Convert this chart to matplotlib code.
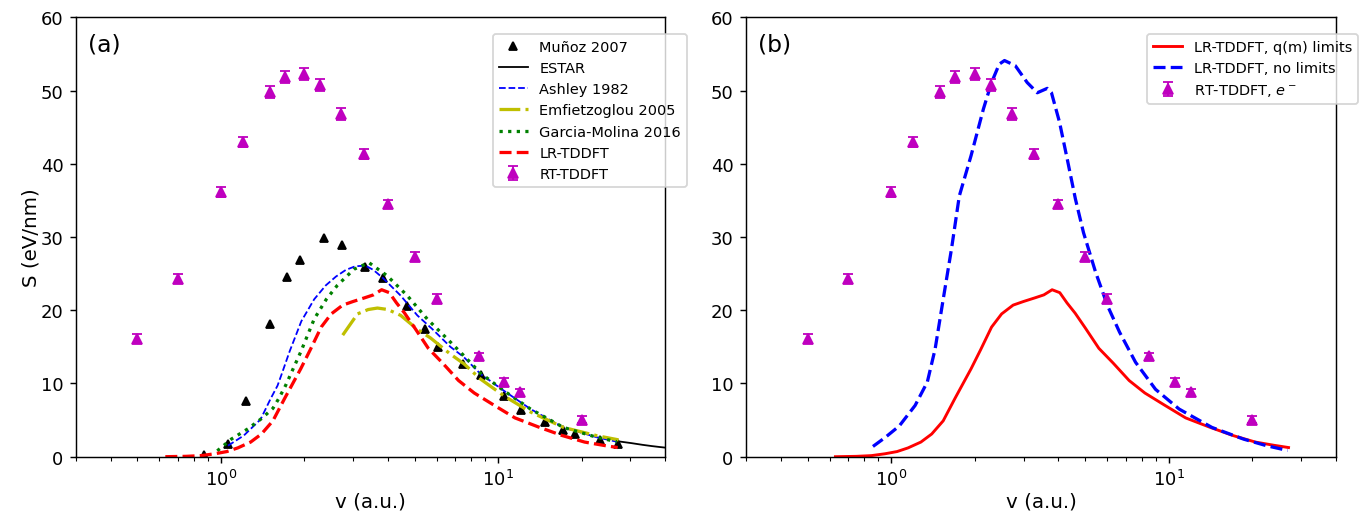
import matplotlib
matplotlib.use("Agg")
import matplotlib.pyplot as plt

# ---------------- data ----------------
munoz_v = [0.87, 1.06, 1.23, 1.505, 1.73, 1.93, 2.36, 2.73, 3.32, 3.84, 4.70, 5.44,
           6.06, 7.44, 8.64, 10.5, 12.1, 14.8, 17.1, 19.0, 23.4, 27.0]
munoz_S = [0.3, 1.73, 7.65, 18.1, 24.6, 26.8, 29.9, 28.9, 25.9, 24.4, 20.6, 17.5,
           15.0, 12.6, 11.2, 8.25, 6.42, 4.7, 3.69, 3.14, 2.24, 1.69]

estar_v = [27.11, 30.31, 33.20, 35.86, 38.34, 42.87]
estar_S = [2.10, 1.85, 1.62, 1.45, 1.32, 1.12]

ashley_v = [1.06, 1.21, 1.39, 1.51, 1.60, 1.65, 1.77, 1.95, 2.17, 2.39, 2.60, 2.82, 3.05,
            3.32, 3.55, 3.84, 4.45, 5.11, 5.80, 6.73, 7.52, 8.64, 10.5, 13.1, 17.2, 22.7, 26.8]
ashley_S = [1.5, 2.9, 5.1, 7.9, 9.7, 11.1, 14.4, 18.5, 21.5, 23.4, 24.6, 25.5, 26.0,
            26.1, 25.5, 24.4, 22.0, 19.3, 17.4, 15.0, 13.6, 11.3, 9.0, 6.5, 4.0, 2.65, 2.05]

emf_v = [2.75, 3.11, 3.40, 3.67, 4.00, 4.45, 5.11, 5.71, 6.73, 7.52, 8.64, 10.5, 13.1,
         17.2, 22.7, 27.2]
emf_S = [16.6, 19.5, 20.1, 20.3, 20.1, 19.3, 17.4, 16.2, 14.0, 12.7, 10.6, 8.3, 6.1,
         4.0, 2.87, 2.3]

gm_v = [0.97, 1.09, 1.25, 1.40, 1.54, 1.62, 1.71, 1.94, 2.17, 2.40, 2.63, 3.02, 3.42,
        3.98, 4.70, 5.55, 6.55, 7.52, 8.64, 10.5, 13.1, 17.2, 22.7, 26.8]
gm_S = [0.8, 2.4, 3.8, 5.2, 6.6, 8.0, 9.7, 14.3, 18.8, 21.5, 23.4, 25.6, 26.5,
        24.7, 22.0, 18.8, 16.1, 13.8, 11.4, 9.0, 6.5, 4.0, 2.65, 2.05]

lr_v = [0.63, 0.75, 0.85, 0.95, 1.05, 1.15, 1.28, 1.40, 1.54, 1.70, 1.94, 2.10, 2.30,
        2.50, 2.75, 3.00, 3.30, 3.55, 3.80, 4.05, 4.30, 4.60, 5.00, 5.60, 6.30, 7.20,
        8.20, 9.60, 11.5, 14.0, 17.0, 20.5, 24.0, 27.0]
lr_S = [0.0, 0.05, 0.15, 0.4, 0.7, 1.2, 2.0, 3.1, 4.9, 8.0, 12.0, 14.6, 17.7,
        19.5, 20.7, 21.2, 21.7, 22.1, 22.8, 22.4, 21.0, 19.6, 17.6, 14.8, 12.8, 10.4,
        8.7, 7.1, 5.3, 4.05, 2.9, 2.0, 1.55, 1.25]

nolim_v = [0.86, 0.95, 1.07, 1.22, 1.35, 1.44, 1.54, 1.65, 1.76, 1.94, 2.15, 2.30, 2.45,
           2.56, 2.80, 3.09, 3.36, 3.65, 3.78, 4.04, 4.31, 4.61, 4.93, 5.45, 6.02, 6.65,
           7.59, 8.96, 10.9, 14.3, 18.6, 22.5, 26.8]
nolim_S = [1.4, 2.6, 4.2, 7.0, 10.2, 14.7, 21.5, 28.4, 35.6, 41.1, 47.5, 51.1, 53.6,
           54.1, 53.4, 51.1, 49.7, 50.3, 49.7, 45.7, 40.6, 35.2, 30.6, 25.2, 20.6, 17.0,
           12.9, 9.2, 6.5, 4.0, 2.4, 1.5, 0.85]

rt_v = [0.5, 0.7, 1.0, 1.2, 1.5, 1.7, 2.0, 2.28, 2.72, 3.27, 4.0, 5.0, 6.0, 8.5, 10.5, 12.0, 20.0]
rt_S = [16.1, 24.3, 36.1, 43.0, 49.8, 51.9, 52.3, 50.8, 46.8, 41.3, 34.5, 27.3, 21.6,
        13.7, 10.2, 8.8, 5.05]
rt_err = [0.6, 0.6, 0.7, 0.7, 0.8, 0.8, 0.8, 0.8, 0.8, 0.7, 0.6, 0.6, 0.6, 0.5, 0.5, 0.5, 0.5]

# ---------------- figure ----------------
fig = plt.figure(figsize=(10.5, 3.946), dpi=130)
axA = fig.add_axes([0.05568, 0.1078, 0.4315, 0.8565])
axB = fig.add_axes([0.5465, 0.1078, 0.4322, 0.8565])

# panel (a)
axA.plot(munoz_v, munoz_S, 'k^', ms=4.6, ls='none', label='Muñoz 2007')
axA.plot(estar_v, estar_S, 'k-', lw=1.0, label='ESTAR')
axA.plot(ashley_v, ashley_S, 'b--', lw=1.0, label='Ashley 1982')
axA.plot(emf_v, emf_S, 'y-.', lw=1.8, label='Emfietzoglou 2005')
axA.plot(gm_v, gm_S, 'g:', lw=1.8, label='Garcia-Molina 2016')
axA.plot(lr_v, lr_S, 'r--', lw=1.8, label='LR-TDDFT')
axA.errorbar(rt_v, rt_S, yerr=rt_err, fmt='m^', ms=5.5, capsize=2.5,
             elinewidth=1.0, label='RT-TDDFT')

# panel (b)
axB.plot(lr_v, lr_S, 'r-', lw=1.6, label='LR-TDDFT, q(m) limits')
axB.plot(nolim_v, nolim_S, 'b--', lw=1.8, label='LR-TDDFT, no limits')
axB.errorbar(rt_v, rt_S, yerr=rt_err, fmt='m^', ms=5.5, capsize=2.5,
             elinewidth=1.0, label='RT-TDDFT, $e^-$')

for ax, tag in ((axA, '(a)'), (axB, '(b)')):
    ax.set_xscale('log')
    ax.set_xlim(0.3, 40)
    ax.set_ylim(0, 60)
    ax.set_xlabel('v (a.u.)', fontsize=11, labelpad=1)
    ax.text(0.02, 0.965, tag, transform=ax.transAxes, va='top', ha='left', fontsize=13)

axA.set_ylabel('S (eV/nm)', fontsize=11, labelpad=0)

axA.legend(loc='upper right', bbox_to_anchor=(1.037, 0.962), borderaxespad=0,
           fontsize=8)
axB.legend(loc='upper right', bbox_to_anchor=(1.037, 0.962), borderaxespad=0,
           fontsize=8)

fig.savefig('out.png', dpi=130)
